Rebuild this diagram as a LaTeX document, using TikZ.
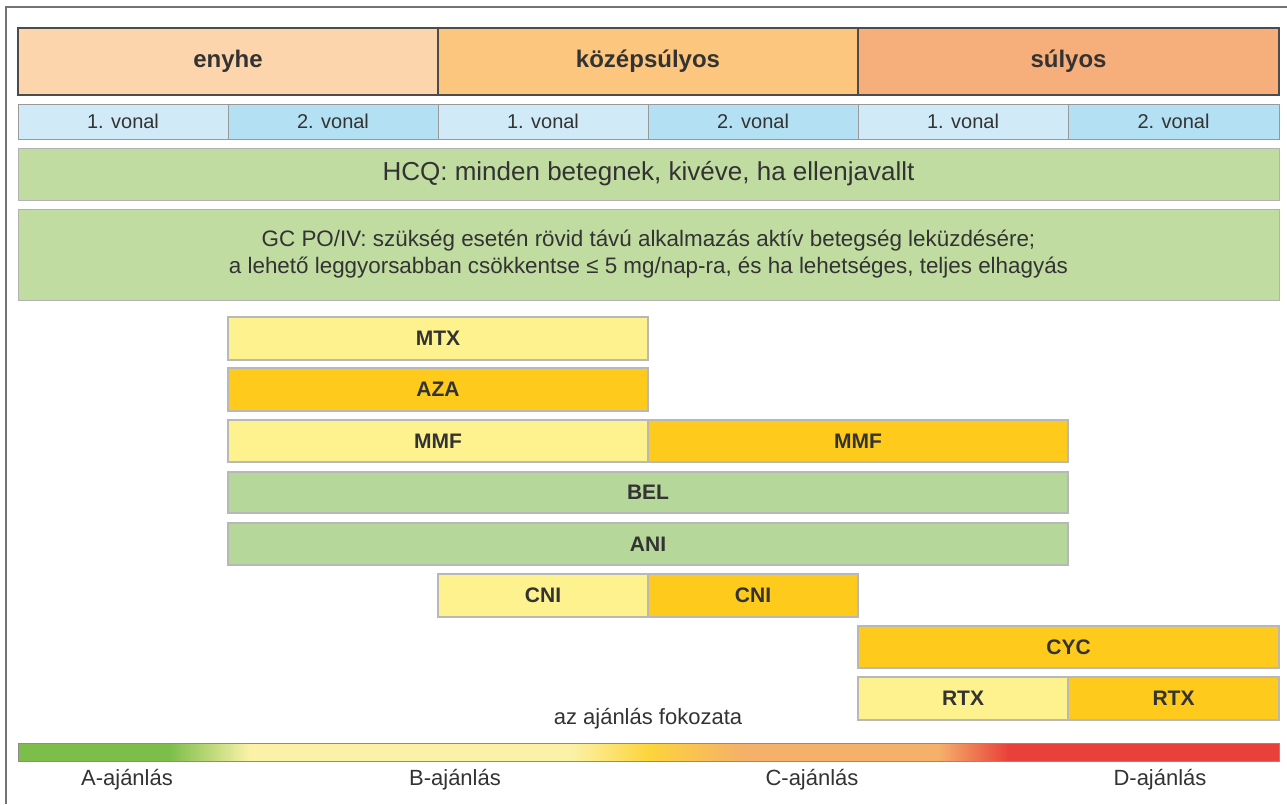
\documentclass[tikz,border=0pt]{standalone}
\usepackage{fontspec}
\setmainfont{Liberation Sans}
\usepackage{xcolor}

\definecolor{szoveg}{HTML}{333333}
\definecolor{enyheC}{HTML}{FCD5AC}
\definecolor{kozepC}{HTML}{FCC67E}
\definecolor{sulyosC}{HTML}{F6AE7B}
\definecolor{vonalA}{HTML}{D0EBF7}
\definecolor{vonalB}{HTML}{B3E0F3}
\definecolor{zoldA}{HTML}{C1DCA1}
\definecolor{zoldB}{HTML}{B5D79A}
\definecolor{sargaA}{HTML}{FEF28E}
\definecolor{sargaB}{HTML}{FECA1B}
\definecolor{skA}{HTML}{7DBE4A}
\definecolor{skB}{HTML}{FBF2A8}
\definecolor{skC}{HTML}{FDD43C}
\definecolor{skD}{HTML}{F5B06A}
\definecolor{skE}{HTML}{E8403A}

\pgfdeclarehorizontalshading{fokozat}{100bp}{color(0bp)=(skA); color(31bp)=(skA); color(34.2bp)=(skB); color(46.9bp)=(skB); color(50bp)=(skC); color(53.8bp)=(skD); color(61.5bp)=(skD); color(64.3bp)=(skE); color(100bp)=(skE)}

% one cell: name, x1, y1, x2, y2, style, text (pixel units)
\newcommand{\cella}[7]{\node[#6, minimum width={(#4-#2)*0.75pt}, minimum height={(#5-#3)*0.75pt}] (#1) at ({(#2+#4)/2},{(#3+#5)/2}) {#7};}

\begin{document}
\begin{tikzpicture}[x=0.75pt,y=-0.75pt,
  every node/.style={inner sep=0pt, outer sep=0pt, text=szoveg},
  sulyossag/.style={draw=black!70, line width=0.9pt, fill=#1, font=\bfseries\fontsize{18}{20}\selectfont},
  vonal/.style={draw=black!40, line width=0.7pt, fill=#1, font=\fontsize{15}{18}\selectfont},
  zold/.style={draw=black!30, line width=0.7pt, fill=#1, align=center},
  gyogyszer/.style={draw=black!28, line width=0.8pt, fill=#1, font=\bfseries\fontsize{15.75}{18}\selectfont},
  cimke/.style={font=\fontsize{16.5}{19}\selectfont}]
\useasboundingbox (0,0) rectangle (1287,804);

% keret
\draw[black!55, line width=1.4pt] (6,804) -- (6,7) -- (1287,7);

% sulyossag
\cella{enyhe}{18}{28}{438}{95}{sulyossag=enyheC}{enyhe}
\cella{kozep}{438}{28}{858}{95}{sulyossag=kozepC}{középsúlyos}
\cella{sulyos}{858}{28}{1279}{95}{sulyossag=sulyosC}{súlyos}

% vonalak
\cella{va}{18}{104}{228}{139}{vonal=vonalA}{1. vonal}
\cella{vb}{228}{104}{438}{139}{vonal=vonalB}{2. vonal}
\cella{vc}{438}{104}{648}{139}{vonal=vonalA}{1. vonal}
\cella{vd}{648}{104}{858}{139}{vonal=vonalB}{2. vonal}
\cella{ve}{858}{104}{1068}{139}{vonal=vonalA}{1. vonal}
\cella{vf}{1068}{104}{1279}{139}{vonal=vonalB}{2. vonal}

% HCQ, GC
\cella{hcq}{18}{148}{1279}{200}{zold=zoldA, font=\fontsize{19.5}{22}\selectfont}{HCQ: minden betegnek, kivéve, ha ellenjavallt}
\cella{gc}{18}{209}{1279}{300}{zold=zoldA, font=\fontsize{16.8}{20.25}\selectfont}{GC PO/IV: szükség esetén rövid távú alkalmazás aktív betegség leküzdésére;\\a lehető leggyorsabban csökkentse ≤ 5 mg/nap-ra, és ha lehetséges, teljes elhagyás}

% gyogyszerek
\cella{mtx}{228}{317}{648}{360}{gyogyszer=sargaA}{MTX}
\cella{aza}{228}{368}{648}{411}{gyogyszer=sargaB}{AZA}
\cella{mmfa}{228}{420}{648}{462}{gyogyszer=sargaA}{MMF}
\cella{mmfb}{648}{420}{1068}{462}{gyogyszer=sargaB}{MMF}
\cella{bel}{228}{472}{1068}{513}{gyogyszer=zoldB}{BEL}
\cella{ani}{228}{523}{1068}{565}{gyogyszer=zoldB}{ANI}
\cella{cnia}{438}{574}{648}{617}{gyogyszer=sargaA}{CNI}
\cella{cnib}{648}{574}{858}{617}{gyogyszer=sargaB}{CNI}
\cella{cyc}{858}{626}{1279}{668}{gyogyszer=sargaB}{CYC}
\cella{rtxa}{858}{677}{1068}{720}{gyogyszer=sargaA}{RTX}
\cella{rtxb}{1068}{677}{1279}{720}{gyogyszer=sargaB}{RTX}

% skala
\node[cimke] (fokozata) at (648,719) {az ajánlás fokozata};
\cella{skala}{18}{743}{1279}{761}{draw=black!45, line width=0.7pt, shading=fokozat}{}
\node[cimke] (ajA) at (127,780) {A-ajánlás};
\node[cimke] (ajB) at (455,780) {B-ajánlás};
\node[cimke] (ajC) at (812,780) {C-ajánlás};
\node[cimke] (ajD) at (1160,780) {D-ajánlás};
\end{tikzpicture}
\end{document}
